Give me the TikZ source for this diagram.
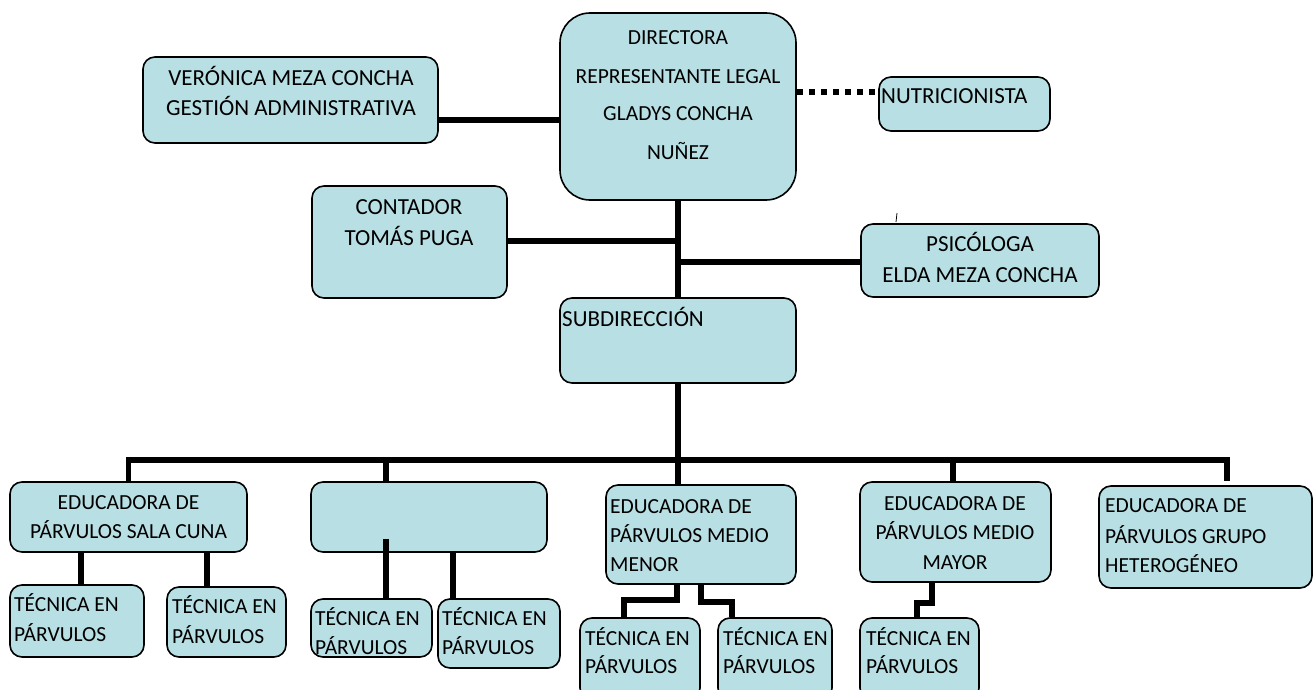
\documentclass[tikz,border=0pt]{standalone}
\usepackage{fontspec}
\setmainfont{Carlito}
\definecolor{boxfill}{RGB}{184,223,227}
\tikzset{
  x=1pt, y=-1pt,
  box/.style={draw=black, line width=1.6pt, fill=boxfill, rounded corners=12pt, inner sep=0pt},
  conn/.style={line width=5.5pt, line join=miter},
  dotconn/.style={line width=5.5pt, dash pattern=on 6.5pt off 5.5pt},
  txt/.style={anchor=base, inner sep=0pt, font=\fontsize{23}{27}\selectfont},
  txtl/.style={anchor=base west, inner sep=0pt, font=\fontsize{23}{27}\selectfont},
  stxt/.style={anchor=base, inner sep=0pt, font=\fontsize{21.5}{26}\selectfont},
  stxtl/.style={anchor=base west, inner sep=0pt, font=\fontsize{21.5}{26}\selectfont},
}
\newcommand\boxat[5]{\node[box,#5, minimum width=#3pt, minimum height=#4pt] (#1) at (#2) {};}
\begin{document}
\begin{tikzpicture}
\useasboundingbox (0,0) rectangle (1316,690);
% boxes
\node[box, rounded corners=30pt, minimum width=236pt, minimum height=187pt] (dir) at (678,106.5) {};
\node[box, minimum width=295pt, minimum height=86pt] (ver) at (290.5,100) {};
\node[box, minimum width=171pt, minimum height=54pt] (nut) at (964.5,104) {};
\node[box, minimum width=195pt, minimum height=112pt] (con) at (409.5,242) {};
\node[box, minimum width=238pt, minimum height=73pt] (psi) at (980,260.5) {};
\node[box, minimum width=236pt, minimum height=85pt] (sub) at (678,340.5) {};
\node[box, minimum width=237pt, minimum height=70pt] (e1) at (128.5,517) {};
\node[box, minimum width=236pt, minimum height=70pt] (e2) at (429,517) {};
\node[box, minimum width=190pt, minimum height=99pt] (e3) at (701,534.5) {};
\node[box, minimum width=191pt, minimum height=100pt] (e4) at (955.5,532) {};
\node[box, minimum width=213pt, minimum height=102pt] (e5) at (1205.5,537) {};
\node[box, minimum width=134pt, minimum height=72pt] (t1) at (77,621) {};
\node[box, minimum width=119pt, minimum height=70pt] (t2) at (226.5,622) {};
\node[box, minimum width=121pt, minimum height=58pt] (t3) at (371.5,628) {};
\node[box, minimum width=122pt, minimum height=69pt] (t4) at (499,633.5) {};
\node[box, minimum width=120pt, minimum height=82pt] (t5) at (640,659) {};
\node[box, minimum width=114pt, minimum height=82pt] (t6) at (775,659) {};
\node[box, minimum width=119pt, minimum height=82pt] (t7) at (919.5,659) {};

% texts
\node[stxt] (dirA) at (678,45) {DIRECTORA};
\node[stxt] (dirB) at (678,84) {REPRESENTANTE LEGAL};
\node[stxt] (dirC) at (678,121) {GLADYS CONCHA};
\node[stxt] (dirD) at (678,159) {NUÑEZ};
\node[txt] (verA) at (291,86) {VERÓNICA MEZA CONCHA};
\node[txt] (verB) at (291,116) {GESTIÓN ADMINISTRATIVA};
\node[txtl] (nutA) at (881,104) {NUTRICIONISTA};
\node[txt] (conA) at (409,214) {CONTADOR};
\node[txt] (conB) at (409,245) {TOMÁS PUGA};
\node[txt] (psiA) at (980,251) {PSICÓLOGA};
\node[txt] (psiB) at (980,282) {ELDA MEZA CONCHA};
\node[txtl] (subA) at (562,326) {SUBDIRECCIÓN};
\node[stxt] (e1A) at (128.5,509) {EDUCADORA DE};
\node[stxt] (e1B) at (128.5,538) {PÁRVULOS SALA CUNA};
\node[stxtl] (e3A) at (610,513) {EDUCADORA DE};
\node[stxtl] (e3B) at (610,542) {PÁRVULOS MEDIO};
\node[stxtl] (e3C) at (610,571) {MENOR};
\node[stxt] (e4A) at (955,510) {EDUCADORA DE};
\node[stxt] (e4B) at (955,539) {PÁRVULOS MEDIO};
\node[stxt] (e4C) at (955,569) {MAYOR};
\node[stxtl] (e5A) at (1105,512) {EDUCADORA DE};
\node[stxtl] (e5B) at (1105,543) {PÁRVULOS GRUPO};
\node[stxtl] (e5C) at (1105,572) {HETEROGÉNEO};
\node[stxtl] (t1A) at (14,611) {TÉCNICA EN};
\node[stxtl] (t1B) at (14,641) {PÁRVULOS};
\node[stxtl] (t2A) at (172,613) {TÉCNICA EN};
\node[stxtl] (t2B) at (172,643) {PÁRVULOS};
\node[stxtl] (t3A) at (315,625) {TÉCNICA EN};
\node[stxtl] (t3B) at (315,654) {PÁRVULOS};
\node[stxtl] (t4A) at (442,625) {TÉCNICA EN};
\node[stxtl] (t4B) at (442,654) {PÁRVULOS};
\node[stxtl] (t5A) at (585,645) {TÉCNICA EN};
\node[stxtl] (t5B) at (585,673) {PÁRVULOS};
\node[stxtl] (t6A) at (723,645) {TÉCNICA EN};
\node[stxtl] (t6B) at (723,673) {PÁRVULOS};
\node[stxtl] (t7A) at (866,645) {TÉCNICA EN};
\node[stxtl] (t7B) at (866,673) {PÁRVULOS};

% connectors
\coordinate (j1) at (678,241);
\coordinate (j2) at (678,262);
\coordinate (bus) at (678,460);
\coordinate (e5end) at (1227,481);
\draw[conn] (ver.east |- 0,120) -- (dir.west |- 0,120);
\draw[dotconn] (dir.east |- 0,92) -- (nut.west |- 0,92);
\draw[conn] (dir.south) -- (sub.north);
\draw[conn] (con.east |- j1) -- (j1);
\draw[conn] (j2) -- (psi.west |- j2);
\draw[conn] (sub.south) -- (bus);
\draw[conn] (e1.north) -- (e1.north |- bus) -- (e5end |- bus) -- (e5end);
\draw[conn] (e2.north -| 386,0) -- (bus -| 386,0);
\draw[conn] (e3.north -| bus) -- (bus);
\draw[conn] (e4.north -| 953,0) -- (bus -| 953,0);
\draw[conn] (e1.south -| 81,0) -- (t1.north -| 81,0);
\draw[conn] (e1.south -| 207,0) -- (t2.north -| 207,0);
\draw[conn] (e2.south -| 386,0) ++(0,-14) -- (t3.north -| 386,0);
\draw[conn] (e2.south -| 453,0) -- (t4.north -| 453,0);
\draw[conn] (e3.south -| 677,0) -- ++(0,15) -| (t5.north -| 624,0);
\draw[conn] (e3.south -| 701,0) -- ++(0,17) -| (t6.north -| 732,0);
\draw[conn] (e4.south -| 932,0) -- ++(0,20) -| (t7.north -| 917,0);
\draw[line width=0.8pt] (897,213) -- (896,222);
\end{tikzpicture}
\end{document}
